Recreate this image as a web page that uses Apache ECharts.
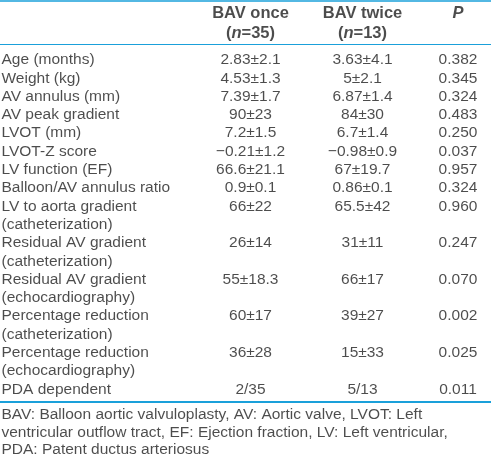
<!DOCTYPE html>
<html>
<head>
<meta charset="utf-8">
<script src="https://cdn.jsdelivr.net/npm/echarts@6/dist/echarts.min.js"></script>
<style>
html,body{margin:0;padding:0;background:#fff;}
#chart{width:491px;height:462px;}
</style>
</head>
<body>
<div id="chart"></div>
<script>
// ---- table content ----
const rowLabels = [
  'Age (months)', 'Weight (kg)', 'AV annulus (mm)', 'AV peak gradient',
  'LVOT (mm)', 'LVOT-Z score', 'LV function (EF)', 'Balloon/AV annulus ratio',
  'LV to aorta gradient\n(catheterization)',
  'Residual AV gradient\n(catheterization)',
  'Residual AV gradient\n(echocardiography)',
  'Percentage reduction\n(catheterization)',
  'Percentage reduction\n(echocardiography)',
  'PDA dependent'
];
const bavOnce = ['2.83±2.1','4.53±1.3','7.39±1.7','90±23','7.2±1.5','−0.21±1.2','66.6±21.1','0.9±0.1','66±22','26±14','55±18.3','60±17','36±28','2/35'];
const bavTwice = ['3.63±4.1','5±2.1','6.87±1.4','84±30','6.7±1.4','−0.98±0.9','67±19.7','0.86±0.1','65.5±42','31±11','66±17','39±27','15±33','5/13'];
const pValues = ['0.382','0.345','0.324','0.483','0.250','0.037','0.957','0.324','0.960','0.247','0.070','0.002','0.025','0.011'];
const headerLine1 = ['BAV once', 'BAV twice', '{bi|P}'];
const headerLine2 = ['({bi|n}=35)', '({bi|n}=13)', ''];
const notes = [
  'BAV: Balloon aortic valvuloplasty, AV: Aortic valve, LVOT: Left',
  'ventricular outflow tract, EF: Ejection fraction, LV: Left ventricular,',
  'PDA: Patent ductus arteriosus'
];

// ---- layout (not data) ----
const W = 491, H = 462;
const lineH = 18.3;      // px per text line
const firstLineY = 60;   // px of first body line
const colX = [1.5, 250.5, 362.5, 458];
const blue = '#1aa0da';
const ink = '#1f1f1f';
const fontFamily = '"Liberation Sans", Arial, Helvetica, sans-serif';
const bodySize = 15.5, headSize = 16.5;
const yMin = -firstLineY / lineH, yMax = (H - firstLineY) / lineH;
const py = px => (px - firstLineY) / lineH; // px -> line units

const body = [];
let line = 0;
rowLabels.forEach((lab, i) => {
  const parts = lab.split('\n');
  parts.forEach((p, k) => {
    body.push({ value: [colX[0], line + k], label: { formatter: p, align: 'left' } });
  });
  [bavOnce[i], bavTwice[i], pValues[i]].forEach((v, c) => {
    body.push({ value: [colX[c + 1], line], label: { formatter: v, align: 'center' } });
  });
  line += parts.length;
});

const head = [];
headerLine1.forEach((t, c) => head.push({ value: [colX[c + 1], py(13)], label: { formatter: t } }));
headerLine2.forEach((t, c) => { if (t) head.push({ value: [colX[c + 1], py(33.5)], label: { formatter: t } }); });

const foot = notes.map((t, k) => ({ value: [colX[0], py(415) + k * (17.6 / lineH)], label: { formatter: t } }));

const chart = echarts.init(document.getElementById('chart'), null, { renderer: 'canvas' });
chart.setOption({
  animation: false,
  backgroundColor: '#fff',
  grid: { left: 0, right: 0, top: 0, bottom: 0 },
  xAxis: { type: 'value', min: 0, max: W, show: false },
  yAxis: { type: 'value', min: yMin, max: yMax, inverse: true, show: false },
  series: [
    {
      type: 'scatter', symbolSize: 0, silent: true,
      label: { show: true, position: 'inside', color: ink, fontFamily, fontSize: bodySize, verticalAlign: 'middle' },
      data: body,
      markLine: {
        silent: true, symbol: 'none', label: { show: false }, animation: false,
        data: [
          { yAxis: py(1), lineStyle: { color: blue, width: 1.5, type: 'solid' } },
          { yAxis: py(44), lineStyle: { color: blue, width: 1.2, type: 'solid' } },
          { yAxis: py(402), lineStyle: { color: blue, width: 2, type: 'solid' } }
        ]
      }
    },
    {
      type: 'scatter', symbolSize: 0, silent: true,
      label: { show: true, position: 'inside', align: 'center', color: ink, fontFamily, fontSize: headSize, fontWeight: 'bold', verticalAlign: 'middle',
        rich: { bi: { fontStyle: 'italic', fontWeight: 'bold', fontSize: headSize, fontFamily, color: ink } } },
      data: head
    },
    {
      type: 'scatter', symbolSize: 0, silent: true,
      label: { show: true, position: 'inside', align: 'left', color: ink, fontFamily, fontSize: bodySize, verticalAlign: 'middle' },
      data: foot
    }
  ]
});
</script>
</body>
</html>
